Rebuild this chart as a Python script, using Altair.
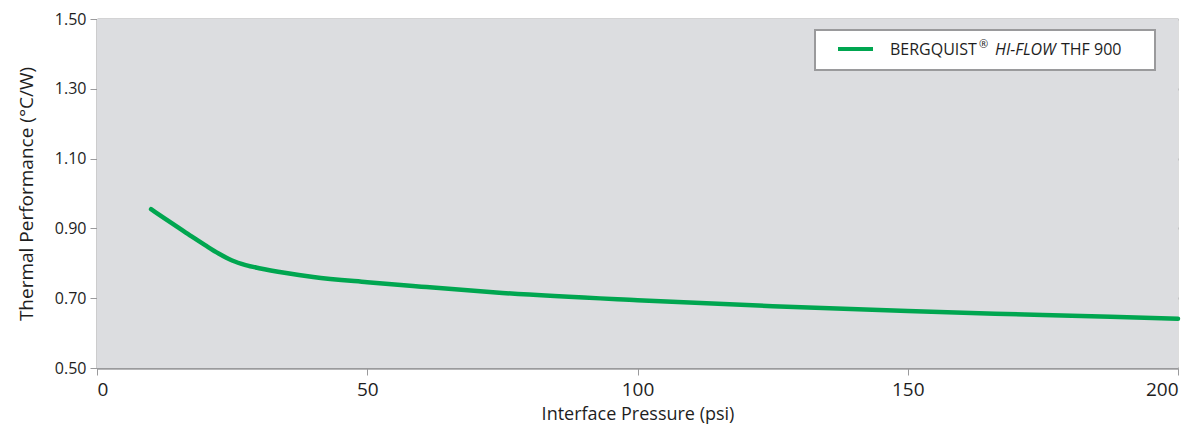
import altair as alt
import pandas as pd

# Data
pressure = [10, 12.5, 15, 17.5, 20, 22.5, 25, 27.5, 30, 35, 40, 50, 60, 75, 100, 125, 150, 175, 200]
performance = [0.955, 0.929, 0.903, 0.877, 0.852, 0.828, 0.808, 0.795, 0.786, 0.772, 0.761, 0.746, 0.733, 0.715, 0.694, 0.677, 0.663, 0.652, 0.641]
series_name = "BERGQUIST® HI-FLOW THF 900"

df = pd.DataFrame({"x": pressure, "y": performance})

GREEN = "#00a650"
FONT = "Open Sans"
TXT = "#1e1e1e"
AX = "#9a9a9c"
W, H = 1081, 349

first = "datum.x == 10"

bg = alt.Chart(df).mark_rect(fill="#dcdde0").encode(
    x=alt.value(0), x2=alt.value(W), y=alt.value(0), y2=alt.value(H)
).transform_filter(first)

line = alt.Chart(df).mark_line(color=GREEN, strokeWidth=4.5, interpolate="monotone", strokeCap="round").encode(
    x=alt.X("x:Q", scale=alt.Scale(domain=[0, 200], nice=False),
            axis=alt.Axis(values=[0, 50, 100, 150, 200], title="Interface Pressure (psi)", grid=False,
                          labelFontSize=19, titleFontSize=18, labelPadding=5, titlePadding=6,
                          tickSize=7, tickColor=AX, domainColor=AX, domainWidth=2,
                          labelColor=TXT, titleColor=TXT, labelFont=FONT, titleFont=FONT,
                          titleFontWeight="normal")),
    y=alt.Y("y:Q", scale=alt.Scale(domain=[0.5, 1.5], nice=False),
            axis=alt.Axis(values=[0.5, 0.7, 0.9, 1.1, 1.3, 1.5], format=".2f", title="Thermal Performance (°C/W)",
                          grid=True, gridColor="#a7a8aa", gridWidth=2,
                          labelFontSize=16, titleFontSize=19, labelPadding=4, titlePadding=18,
                          tickSize=7, tickColor=AX, domainColor=AX, domainWidth=2,
                          labelColor=TXT, titleColor=TXT, labelFont=FONT, titleFont=FONT,
                          titleFontWeight="normal")),
)

# Manual legend (pixel positions within plot area)
box = alt.Chart(df).mark_rect(fill="white", stroke=AX, strokeWidth=2).encode(
    x=alt.value(718), x2=alt.value(1058), y=alt.value(11), y2=alt.value(51)
).transform_filter(first)
swatch = alt.Chart(df).mark_rule(color=GREEN, strokeWidth=4).encode(
    x=alt.value(741), x2=alt.value(776), y=alt.value(30)
).transform_filter(first)
t1 = alt.Chart(df).mark_text(align="left", baseline="middle", fontSize=16, font=FONT, color=TXT).encode(
    x=alt.value(793), y=alt.value(31), text=alt.value("BERGQUIST")
).transform_filter(first)
treg = alt.Chart(df).mark_text(align="left", baseline="middle", fontSize=11, font=FONT, color=TXT).encode(
    x=alt.value(882), y=alt.value(26), text=alt.value("®")
).transform_filter(first)
t2 = alt.Chart(df).mark_text(align="left", baseline="middle", fontSize=16, font=FONT, fontStyle="italic", color=TXT).encode(
    x=alt.value(898), y=alt.value(31), text=alt.value("HI-FLOW")
).transform_filter(first)
t3 = alt.Chart(df).mark_text(align="left", baseline="middle", fontSize=16, font=FONT, color=TXT).encode(
    x=alt.value(964), y=alt.value(31), text=alt.value("THF 900")
).transform_filter(first)

chart = alt.layer(bg, line, box, swatch, t1, treg, t2, t3).properties(
    width=W, height=H,
    autosize=alt.AutoSizeParams(type="none"),
    padding={"left": 89, "top": 11, "right": 15, "bottom": 62},
).configure_view(stroke=AX, strokeWidth=2).configure(background="white")

chart.save("out.html", embed_options={"renderer": "svg", "actions": False})
